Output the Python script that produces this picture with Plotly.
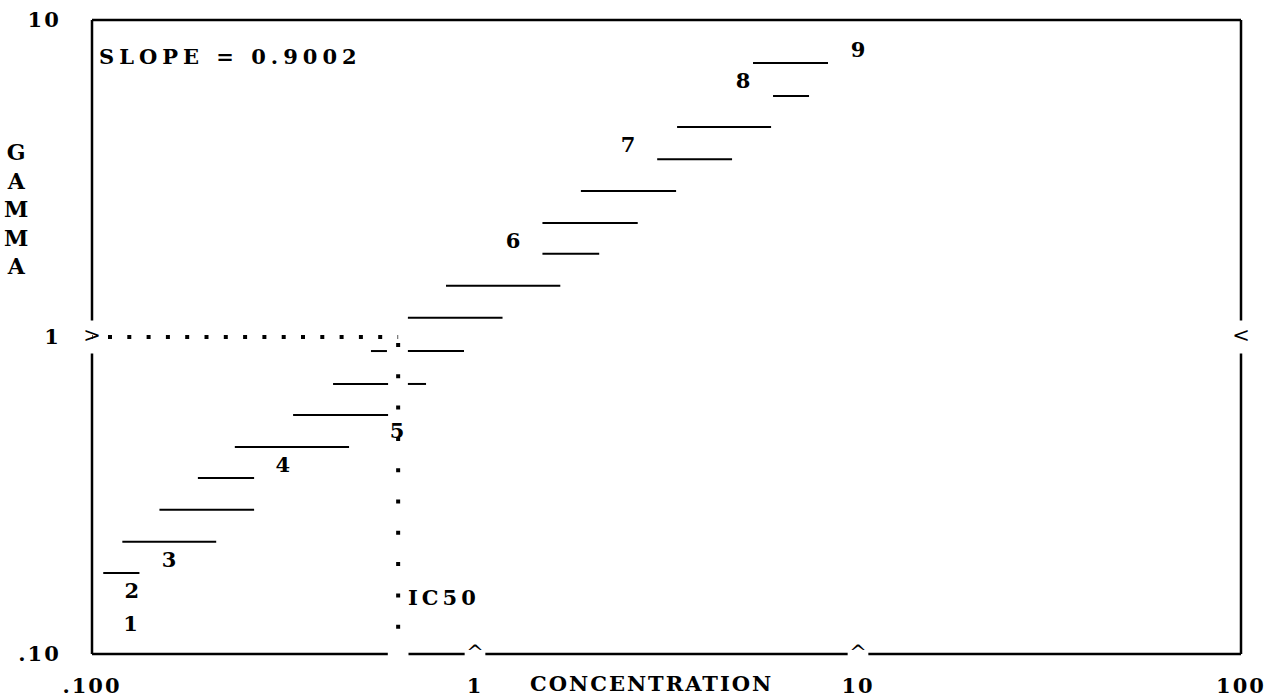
import numpy as np
import plotly.graph_objects as go

# ---- data ----
seg_gamma = [7.32, 5.76, 4.60, 3.64, 2.89, 2.29, 1.83, 1.45, 1.15, 0.903, 0.903,
             0.711, 0.711, 0.567, 0.450, 0.359, 0.285, 0.226, 0.180]
seg_lo = [5.32, 6.00, 3.37, 2.99, 1.89, 1.50, 1.50, 0.840, 0.668, 0.535, 0.668,
          0.426, 0.668, 0.335, 0.236, 0.189, 0.150, 0.120, 0.107]
seg_hi = [8.35, 7.45, 5.93, 4.69, 3.35, 2.66, 2.11, 1.67, 1.18, 0.589, 0.936,
          0.593, 0.745, 0.593, 0.469, 0.265, 0.265, 0.211, 0.133]

pt_labels = ["1", "2", "3", "4", "5", "6", "7", "8", "9"]
pt_x = [0.126, 0.127, 0.159, 0.315, 0.626, 1.257, 2.51, 5.01, 10.0]
pt_y = [0.123, 0.156, 0.195, 0.389, 0.498, 1.98, 3.98, 6.33, 7.93]

ic50 = 0.630
ic50_gamma = 1.0
ic50_label_gamma = 0.151
slope = 0.9002

x_tickvals = [0.1, 1, 10, 100]
x_ticktext = [".100", "1", "10", "100"]
y_tickvals = [0.1, 1, 10]
y_ticktext = [".10", "1", "10"]
x_min, x_max = 0.1, 100
y_min, y_max = 0.1, 10

FONT = "DejaVu Serif"
FS = 21


def spaced(s, px):
    return f'<span style="letter-spacing:{px}px">{s}</span>'


def tfont(size=FS):
    return dict(family=FONT, size=size, color="black", weight="bold")


fig = go.Figure()

# horizontal segments
sx, sy = [], []
for lo, hi, g in zip(seg_lo, seg_hi, seg_gamma):
    sx += [lo, hi, None]
    sy += [g, g, None]
fig.add_trace(go.Scatter(x=sx, y=sy, mode="lines",
                         line=dict(color="black", width=2), hoverinfo="skip"))

# dotted IC50 guide lines
fig.add_trace(go.Scatter(x=[x_min, ic50], y=[ic50_gamma, ic50_gamma], mode="lines",
                         line=dict(color="black", width=4,
                                   dash="0.7px,15.3px,3.3px,0px"),
                         hoverinfo="skip"))
fig.add_trace(go.Scatter(x=[ic50, ic50], y=[ic50_gamma, y_min], mode="lines",
                         line=dict(color="black", width=4,
                                   dash="0px,6px,4px,21.3px"),
                         hoverinfo="skip"))

# point number labels
fig.add_trace(go.Scatter(x=pt_x, y=pt_y, mode="text", text=pt_labels,
                         textposition="middle center", cliponaxis=False,
                         textfont=tfont(), hoverinfo="skip"))

# tick marker characters on the frame
fig.add_trace(go.Scatter(x=[1, 10, x_min, x_max], y=[y_min, y_min, 1, 1], mode="text",
                         text=["^", "^", ">", "<"], textposition="middle center",
                         cliponaxis=False,
                         textfont=dict(family=FONT, size=FS, color="black"),
                         hoverinfo="skip"))


# frame with gaps at the tick markers
def px(v):
    return (np.log10(v) - np.log10(x_min)) / (np.log10(x_max) - np.log10(x_min))


def py(v):
    return (np.log10(v) - np.log10(y_min)) / (np.log10(y_max) - np.log10(y_min))


gx = 0.009
gy = 0.026
line = dict(color="black", width=2.5)
shapes = [dict(type="line", xref="paper", yref="paper", x0=0, x1=1, y0=1, y1=1, line=line)]
for xe in (0, 1):
    shapes.append(dict(type="line", xref="paper", yref="paper", x0=xe, x1=xe,
                       y0=1, y1=py(1) + gy, line=line))
    shapes.append(dict(type="line", xref="paper", yref="paper", x0=xe, x1=xe,
                       y0=py(1) - gy, y1=0, line=line))
cuts = [px(ic50), px(1), px(10)]
starts = [0] + [c + gx for c in cuts]
ends = [c - gx for c in cuts] + [1]
for a, b in zip(starts, ends):
    shapes.append(dict(type="line", xref="paper", yref="paper", x0=a, x1=b, y0=0, y1=0, line=line))

annotations = [
    dict(text=spaced(f"SLOPE = {slope:.4f}", 5), xref="paper", yref="paper",
         x=0.004, y=0.943, xanchor="left", yanchor="middle", showarrow=False,
         font=tfont()),
    dict(text=spaced("IC50", 4), xref="x", yref="y",
         x=np.log10(ic50), y=np.log10(ic50_label_gamma), xanchor="left", yanchor="middle",
         xshift=8, showarrow=False, font=tfont()),
    dict(text=spaced("CONCENTRATION", 2), xref="paper", yref="paper",
         x=0.487, y=-0.047, xanchor="center", yanchor="middle", showarrow=False,
         font=tfont()),
    dict(text="G<br>A<br>M<br>M<br>A", xref="paper", yref="paper",
         x=-0.066, y=0.702, xanchor="center", yanchor="middle", showarrow=False,
         font=tfont(22)),
]

fig.update_layout(
    template="none",
    width=1277, height=700,
    margin=dict(l=92, r=36, t=20, b=46),
    paper_bgcolor="white", plot_bgcolor="white",
    showlegend=False,
    font=dict(family=FONT, size=FS, color="black"),
    shapes=shapes,
    annotations=annotations,
    xaxis=dict(type="log", range=[np.log10(x_min), np.log10(x_max)],
               showgrid=False, zeroline=False, showline=False,
               tickvals=x_tickvals, ticktext=[spaced(t, 2) for t in x_ticktext],
               ticks="outside", ticklen=13, tickcolor="rgba(0,0,0,0)",
               tickfont=tfont(), automargin=False),
    yaxis=dict(type="log", range=[np.log10(y_min), np.log10(y_max)],
               showgrid=False, zeroline=False, showline=False,
               tickvals=y_tickvals, ticktext=[spaced(t, 2) for t in y_ticktext],
               ticks="outside", ticklen=26, tickcolor="rgba(0,0,0,0)",
               tickfont=tfont(), automargin=False),
)

fig.write_html("out.html", config={"displayModeBar": False},
               post_script="document.body.style.margin='0';")
